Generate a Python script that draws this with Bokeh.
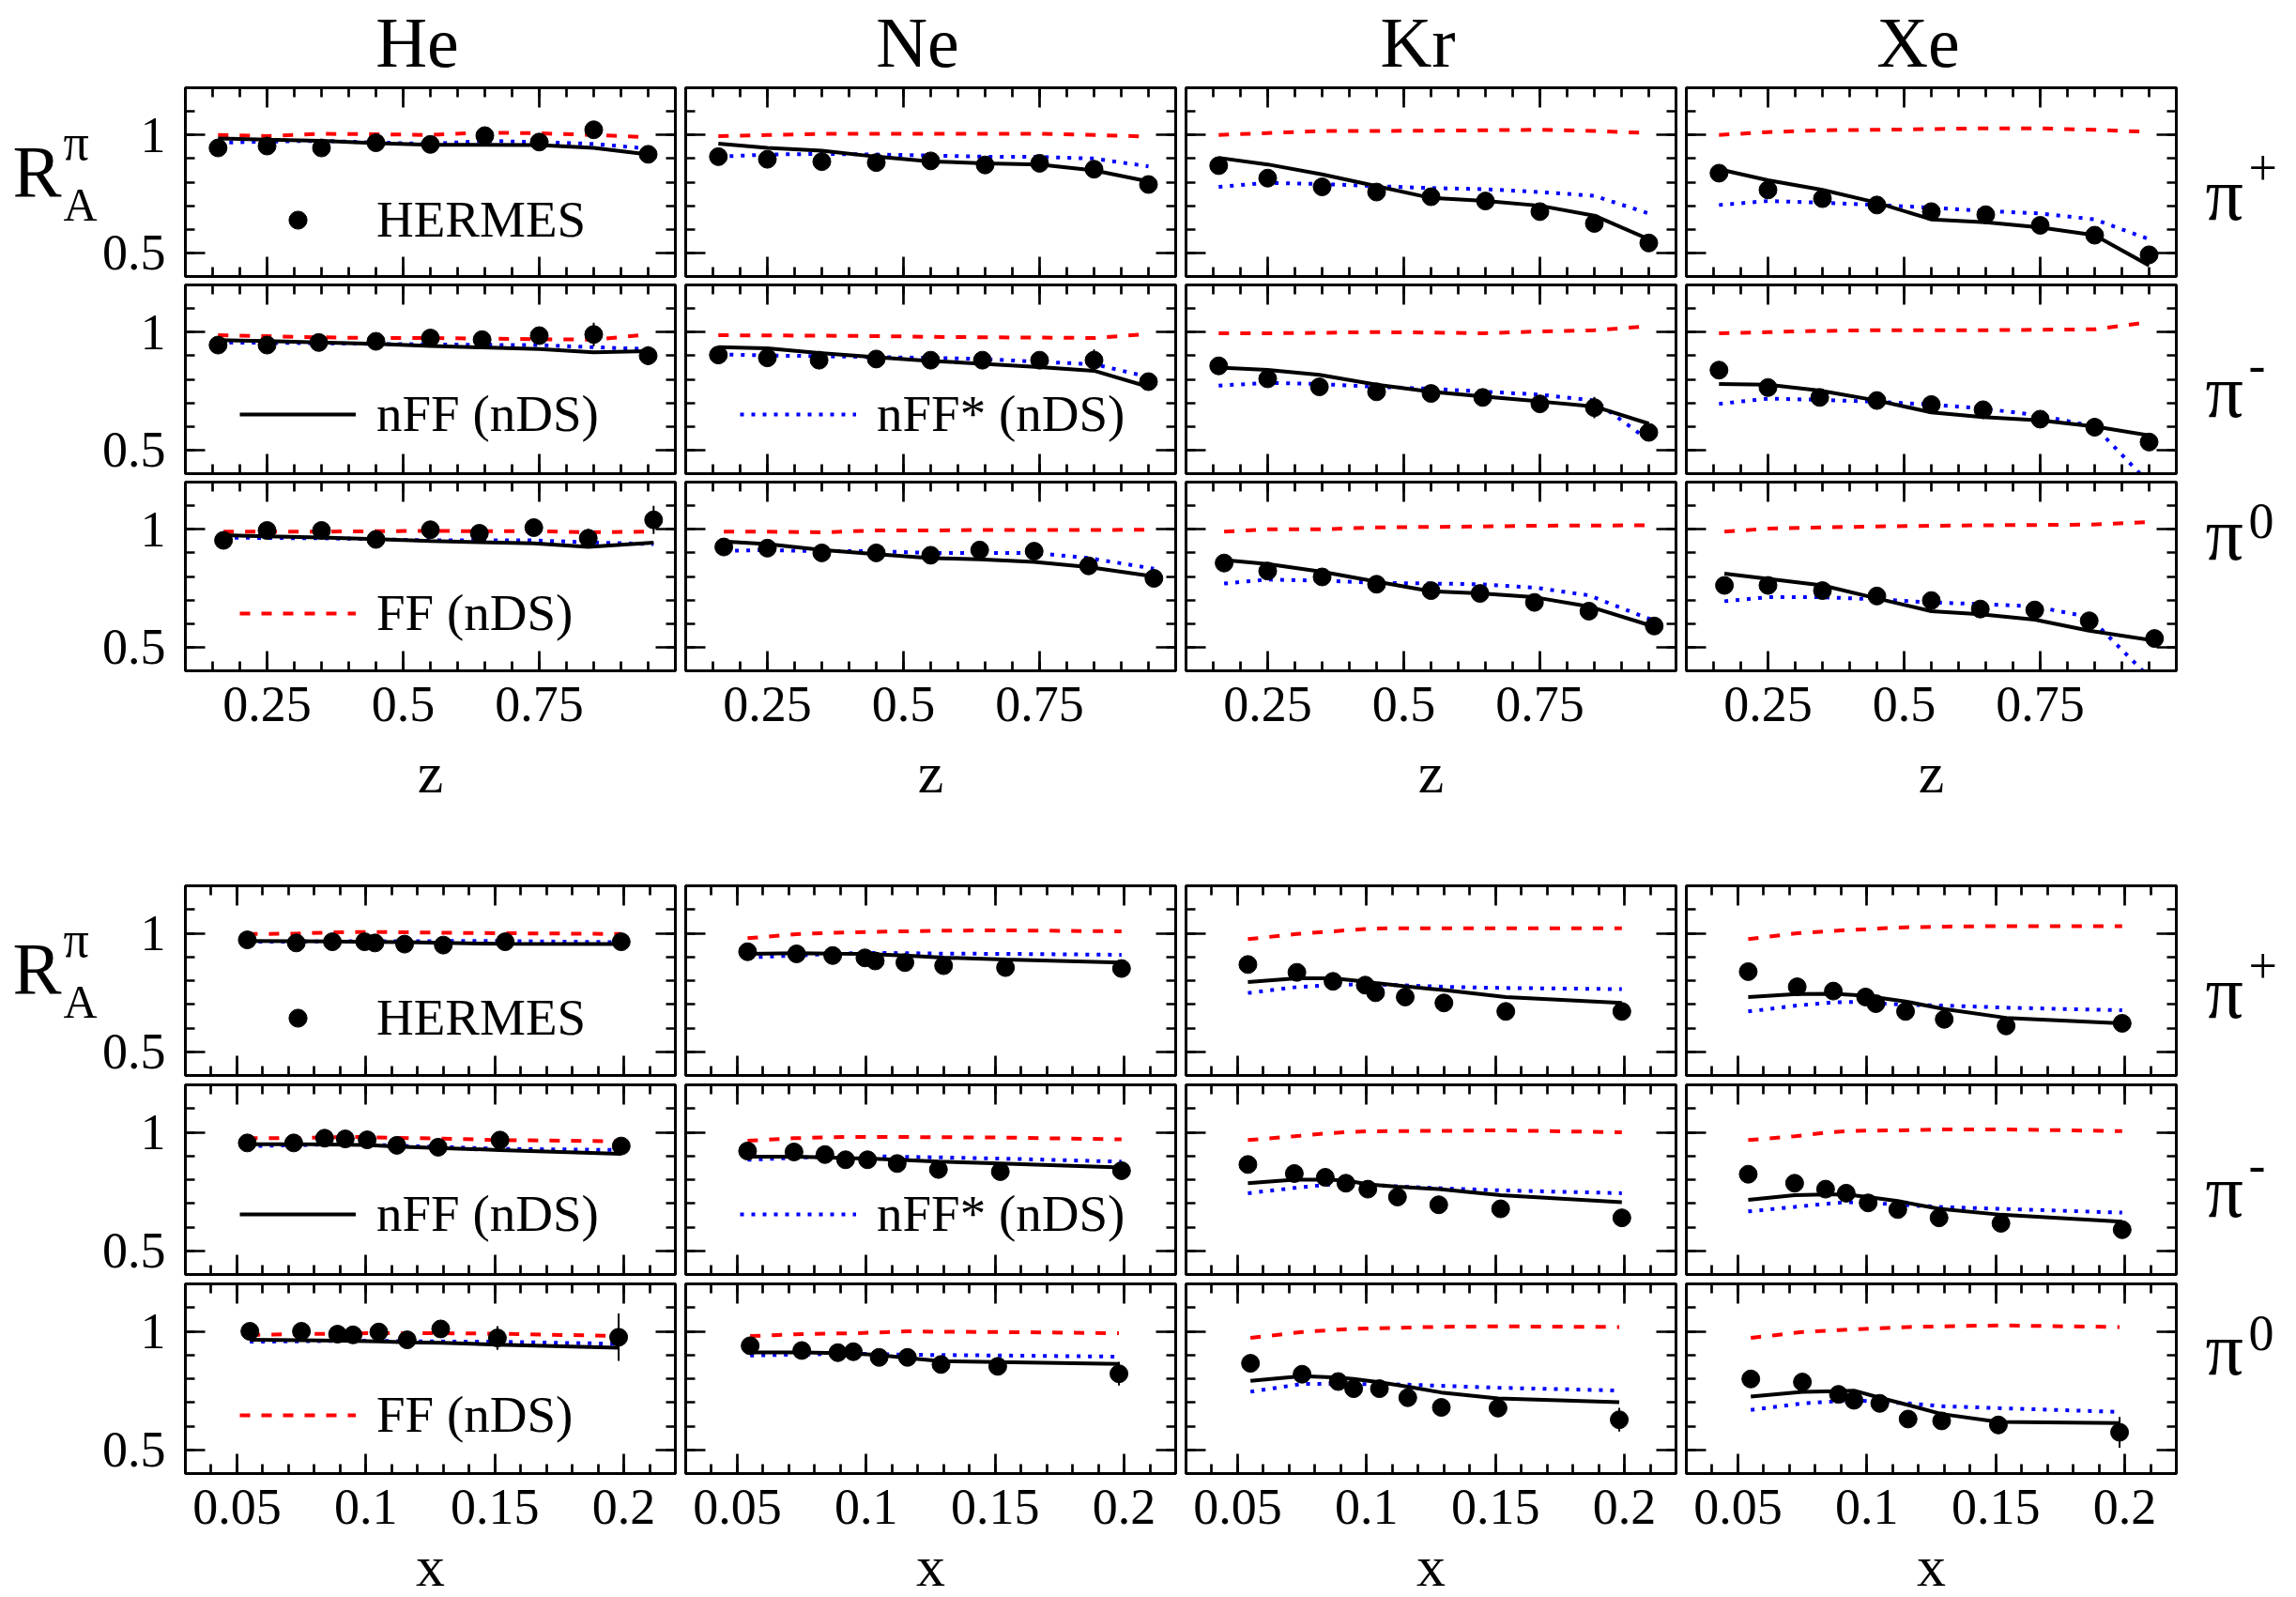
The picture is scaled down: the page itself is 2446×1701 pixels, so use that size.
from bokeh.plotting import figure
from bokeh.models import (Range1d, FixedTicker, LinearAxis, Label, Legend, LegendItem,
                          CustomJSTickFormatter)
from bokeh.layouts import column, row
from bokeh.embed import file_html
from bokeh.resources import INLINE

FONT = "Liberation Serif"
TARGETS = ["He", "Ne", "Kr", "Xe"]
PIONS = ["+", "-", "0"]

# ---------------- z dependence (upper block) ----------------
Z_BINS = {
    "+": [0.16, 0.25, 0.35, 0.45, 0.55, 0.65, 0.75, 0.85, 0.95],
    "-": [0.16, 0.25, 0.345, 0.45, 0.55, 0.645, 0.75, 0.85, 0.95],
    "0": [0.17, 0.25, 0.35, 0.45, 0.55, 0.64, 0.74, 0.84, 0.96],
}
Z_HERMES = {
    "He": {"+": [0.945, 0.953, 0.945, 0.967, 0.96, 0.997, 0.97, 1.022, 0.918],
           "-": [0.945, 0.945, 0.956, 0.961, 0.975, 0.968, 0.985, 0.99, 0.9],
           "0": [0.953, 0.995, 0.995, 0.957, 0.998, 0.983, 1.007, 0.962, 1.04]},
    "Ne": {"+": [0.908, 0.897, 0.887, 0.883, 0.89, 0.873, 0.88, 0.855, 0.79],
           "-": [0.903, 0.891, 0.881, 0.886, 0.881, 0.881, 0.881, 0.881, 0.79],
           "0": [0.925, 0.92, 0.9, 0.9, 0.89, 0.912, 0.907, 0.845, 0.792]},
    "Kr": {"+": [0.87, 0.817, 0.78, 0.758, 0.738, 0.72, 0.675, 0.625, 0.542],
           "-": [0.857, 0.802, 0.768, 0.747, 0.74, 0.723, 0.696, 0.68, 0.575],
           "0": [0.857, 0.823, 0.798, 0.767, 0.74, 0.728, 0.69, 0.653, 0.59]},
    "Xe": {"+": [0.838, 0.767, 0.73, 0.703, 0.675, 0.662, 0.617, 0.575, 0.492],
           "-": [0.839, 0.765, 0.723, 0.71, 0.693, 0.671, 0.631, 0.597, 0.534],
           "0": [0.762, 0.762, 0.74, 0.717, 0.698, 0.662, 0.658, 0.612, 0.537]},
}
Z_ERR = {
    "He": {"+": [0.02, 0.02, 0.02, 0.02, 0.02, 0.02, 0.02, 0.035, 0.025],
           "-": [0.02, 0.02, 0.02, 0.02, 0.02, 0.02, 0.02, 0.05, 0.04],
           "0": [0.02, 0.02, 0.02, 0.02, 0.02, 0.02, 0.03, 0.04, 0.06]},
    "Ne": {"-": [0.02, 0.02, 0.02, 0.02, 0.02, 0.02, 0.02, 0.045, 0.03]},
    "Kr": {"-": [0.02, 0.02, 0.02, 0.02, 0.02, 0.02, 0.02, 0.045, 0.03]},
    "Xe": {"-": [0.02, 0.02, 0.02, 0.02, 0.02, 0.02, 0.02, 0.04, 0.03]},
}
Z_NFF = {
    "He": {"+": [0.985, 0.98, 0.975, 0.965, 0.958, 0.958, 0.957, 0.945, 0.917],
           "-": [0.966, 0.962, 0.956, 0.95, 0.941, 0.935, 0.928, 0.914, 0.919],
           "0": [0.975, 0.97, 0.965, 0.958, 0.95, 0.945, 0.94, 0.925, 0.943]},
    "Ne": {"+": [0.963, 0.945, 0.933, 0.908, 0.888, 0.88, 0.875, 0.85, 0.803],
           "-": [0.936, 0.931, 0.911, 0.894, 0.878, 0.866, 0.852, 0.836, 0.768],
           "0": [0.948, 0.937, 0.912, 0.895, 0.878, 0.873, 0.862, 0.84, 0.8]},
    "Kr": {"+": [0.903, 0.875, 0.833, 0.783, 0.733, 0.72, 0.7, 0.658, 0.558],
           "-": [0.85, 0.84, 0.819, 0.777, 0.747, 0.727, 0.706, 0.685, 0.612],
           "0": [0.87, 0.853, 0.82, 0.778, 0.737, 0.728, 0.712, 0.673, 0.587]},
    "Xe": {"+": [0.855, 0.808, 0.767, 0.713, 0.642, 0.63, 0.608, 0.575, 0.447],
           "-": [0.78, 0.777, 0.752, 0.71, 0.66, 0.64, 0.626, 0.6, 0.562],
           "0": [0.812, 0.79, 0.762, 0.707, 0.653, 0.64, 0.617, 0.57, 0.528]},
}
Z_NFF_STAR = {
    "He": {"+": [0.967, 0.972, 0.975, 0.968, 0.962, 0.975, 0.97, 0.962, 0.942],
           "-": [0.956, 0.955, 0.953, 0.95, 0.948, 0.946, 0.945, 0.936, 0.928],
           "0": [0.965, 0.963, 0.962, 0.958, 0.953, 0.953, 0.953, 0.945, 0.937]},
    "Ne": {"+": [0.908, 0.917, 0.92, 0.917, 0.913, 0.908, 0.907, 0.9, 0.867],
           "-": [0.906, 0.901, 0.898, 0.894, 0.891, 0.886, 0.874, 0.864, 0.81],
           "0": [0.908, 0.912, 0.907, 0.907, 0.9, 0.9, 0.9, 0.878, 0.833]},
    "Kr": {"+": [0.78, 0.797, 0.792, 0.783, 0.775, 0.77, 0.758, 0.742, 0.667],
           "-": [0.773, 0.785, 0.78, 0.768, 0.76, 0.748, 0.735, 0.71, 0.542],
           "0": [0.77, 0.787, 0.782, 0.773, 0.77, 0.767, 0.753, 0.72, 0.612]},
    "Xe": {"+": [0.703, 0.72, 0.713, 0.703, 0.692, 0.678, 0.667, 0.642, 0.558],
           "-": [0.696, 0.718, 0.713, 0.705, 0.693, 0.676, 0.646, 0.6, 0.36],
           "0": [0.695, 0.712, 0.712, 0.703, 0.69, 0.683, 0.673, 0.628, 0.35]},
}
Z_FF = {
    "He": {"+": [1.0, 0.995, 1.005, 1.003, 1.0, 1.01, 1.007, 1.0, 0.99],
           "-": [0.987, 0.983, 0.978, 0.975, 0.975, 0.973, 0.97, 0.968, 0.99],
           "0": [0.99, 0.99, 0.99, 0.992, 0.993, 0.992, 0.992, 0.987, 0.99]},
    "Ne": {"+": [0.995, 1.0, 1.005, 1.005, 1.005, 1.005, 1.005, 1.0, 0.993],
           "-": [0.987, 0.986, 0.985, 0.983, 0.98, 0.978, 0.977, 0.975, 0.992],
           "0": [0.99, 0.99, 0.987, 0.995, 0.995, 0.997, 0.997, 0.997, 0.998]},
    "Kr": {"+": [1.0, 1.008, 1.017, 1.017, 1.018, 1.02, 1.022, 1.017, 1.008],
           "-": [0.995, 0.995, 0.997, 1.0, 0.998, 0.995, 1.003, 1.008, 1.025],
           "0": [0.99, 1.0, 1.0, 1.008, 1.01, 1.012, 1.015, 1.016, 1.017]},
    "Xe": {"+": [1.0, 1.012, 1.02, 1.022, 1.025, 1.028, 1.028, 1.022, 1.013],
           "-": [0.995, 1.0, 1.005, 1.008, 1.008, 1.008, 1.01, 1.012, 1.042],
           "0": [0.99, 1.003, 1.008, 1.012, 1.015, 1.017, 1.018, 1.02, 1.032]},
}

# ---------------- x dependence (lower block) ----------------
X_BINS = {
    "+": [0.054, 0.073, 0.087, 0.0995, 0.1035, 0.115, 0.13, 0.154, 0.199],
    "-": [0.054, 0.072, 0.084, 0.092, 0.1005, 0.112, 0.128, 0.152, 0.199],
    "0": [0.055, 0.075, 0.089, 0.095, 0.105, 0.116, 0.129, 0.151, 0.198],
}
X_HERMES = {
    "He": {"+": [0.972, 0.959, 0.964, 0.964, 0.959, 0.954, 0.95, 0.964, 0.964],
           "-": [0.955, 0.955, 0.975, 0.972, 0.968, 0.945, 0.937, 0.967, 0.942],
           "0": [1.0, 1.0, 0.988, 0.985, 0.997, 0.964, 1.01, 0.972, 0.975]},
    "Ne": {"+": [0.922, 0.913, 0.906, 0.896, 0.883, 0.876, 0.863, 0.855, 0.851],
           "-": [0.921, 0.917, 0.906, 0.884, 0.884, 0.868, 0.843, 0.834, 0.838],
           "0": [0.939, 0.919, 0.91, 0.914, 0.89, 0.89, 0.86, 0.852, 0.821]},
    "Kr": {"+": [0.868, 0.835, 0.797, 0.781, 0.749, 0.731, 0.706, 0.67, 0.67],
           "-": [0.864, 0.826, 0.81, 0.785, 0.76, 0.727, 0.694, 0.677, 0.639],
           "0": [0.865, 0.819, 0.788, 0.758, 0.758, 0.72, 0.679, 0.676, 0.627]},
    "Xe": {"+": [0.838, 0.774, 0.756, 0.731, 0.703, 0.67, 0.637, 0.609, 0.62],
           "-": [0.823, 0.785, 0.76, 0.743, 0.702, 0.674, 0.639, 0.616, 0.589],
           "0": [0.799, 0.786, 0.734, 0.709, 0.696, 0.63, 0.622, 0.605, 0.574]},
}
X_ERR = {
    "He": {"0": [0.02, 0.02, 0.02, 0.02, 0.02, 0.02, 0.02, 0.05, 0.1]},
    "Ne": {"0": [0.02, 0.02, 0.02, 0.02, 0.02, 0.02, 0.02, 0.02, 0.05]},
    "Kr": {"0": [0.02, 0.02, 0.02, 0.02, 0.02, 0.02, 0.02, 0.02, 0.05]},
    "Xe": {"0": [0.02, 0.02, 0.02, 0.02, 0.02, 0.02, 0.02, 0.02, 0.065]},
}
X_NFF = {
    "He": {"+": [0.967, 0.966, 0.965, 0.963, 0.963, 0.962, 0.959, 0.955, 0.954],
           "-": [0.95, 0.95, 0.949, 0.948, 0.947, 0.94, 0.934, 0.925, 0.909],
           "0": [0.964, 0.962, 0.96, 0.959, 0.957, 0.953, 0.951, 0.944, 0.931]},
    "Ne": {"+": [0.913, 0.916, 0.914, 0.913, 0.911, 0.906, 0.897, 0.889, 0.876],
           "-": [0.897, 0.897, 0.894, 0.891, 0.889, 0.884, 0.876, 0.868, 0.851],
           "0": [0.911, 0.911, 0.908, 0.906, 0.9, 0.887, 0.874, 0.87, 0.862]},
    "Kr": {"+": [0.794, 0.81, 0.81, 0.796, 0.79, 0.776, 0.76, 0.731, 0.706],
           "-": [0.785, 0.8, 0.8, 0.797, 0.78, 0.77, 0.76, 0.735, 0.705],
           "0": [0.791, 0.811, 0.805, 0.799, 0.785, 0.766, 0.742, 0.717, 0.701]},
    "Xe": {"+": [0.731, 0.744, 0.745, 0.737, 0.73, 0.712, 0.68, 0.643, 0.62],
           "-": [0.715, 0.735, 0.738, 0.738, 0.727, 0.71, 0.677, 0.652, 0.623],
           "0": [0.725, 0.745, 0.748, 0.75, 0.72, 0.689, 0.651, 0.618, 0.613]},
}
X_NFF_STAR = {
    "He": {"+": [0.964, 0.965, 0.966, 0.966, 0.966, 0.966, 0.967, 0.967, 0.962],
           "-": [0.942, 0.945, 0.948, 0.95, 0.949, 0.943, 0.939, 0.93, 0.925],
           "0": [0.956, 0.958, 0.96, 0.961, 0.96, 0.958, 0.957, 0.956, 0.947]},
    "Ne": {"+": [0.898, 0.906, 0.913, 0.917, 0.917, 0.916, 0.914, 0.913, 0.909],
           "-": [0.884, 0.892, 0.897, 0.899, 0.9, 0.897, 0.894, 0.889, 0.876],
           "0": [0.898, 0.902, 0.905, 0.906, 0.904, 0.901, 0.9, 0.898, 0.893]},
    "Kr": {"+": [0.748, 0.773, 0.782, 0.785, 0.784, 0.78, 0.774, 0.769, 0.764],
           "-": [0.743, 0.765, 0.778, 0.785, 0.778, 0.772, 0.764, 0.755, 0.743],
           "0": [0.745, 0.778, 0.778, 0.778, 0.777, 0.775, 0.77, 0.762, 0.75]},
    "Xe": {"+": [0.67, 0.695, 0.708, 0.711, 0.705, 0.698, 0.695, 0.686, 0.675],
           "-": [0.666, 0.685, 0.698, 0.705, 0.702, 0.695, 0.685, 0.677, 0.661],
           "0": [0.668, 0.696, 0.705, 0.709, 0.702, 0.696, 0.684, 0.676, 0.66]},
}
X_FF = {
    "He": {"+": [0.997, 0.998, 1.004, 1.005, 1.005, 1.004, 1.002, 1.0, 0.997],
           "-": [0.975, 0.975, 0.978, 0.98, 0.98, 0.976, 0.974, 0.967, 0.962],
           "0": [0.985, 0.988, 0.99, 0.991, 0.992, 0.992, 0.992, 0.99, 0.98]},
    "Ne": {"+": [0.979, 0.996, 1.002, 1.005, 1.006, 1.008, 1.011, 1.012, 1.008],
           "-": [0.964, 0.975, 0.978, 0.98, 0.98, 0.98, 0.979, 0.978, 0.97],
           "0": [0.98, 0.988, 0.991, 0.992, 0.995, 1.0, 0.998, 0.997, 0.992]},
    "Kr": {"+": [0.975, 0.997, 1.008, 1.018, 1.02, 1.021, 1.021, 1.021, 1.021],
           "-": [0.967, 0.983, 0.995, 1.0, 1.004, 1.005, 1.006, 1.008, 1.0],
           "0": [0.972, 0.997, 1.007, 1.01, 1.013, 1.016, 1.019, 1.021, 1.018]},
    "Xe": {"+": [0.975, 1.0, 1.01, 1.017, 1.02, 1.025, 1.028, 1.03, 1.03],
           "-": [0.967, 0.983, 0.998, 1.005, 1.007, 1.008, 1.012, 1.012, 1.005],
           "0": [0.972, 0.997, 1.005, 1.008, 1.013, 1.018, 1.021, 1.025, 1.018]},
}

# ---------------- axes ----------------
Y_RANGE = (0.4, 1.2)
Y_MAJOR = [0.5, 1.0]
Y_MINOR = [round(0.4 + 0.1 * i, 2) for i in range(9)]
Z_RANGE = (0.1, 1.0)
Z_MAJOR = [0.25, 0.5, 0.75]
Z_MINOR = [round(0.1 + 0.05 * i, 3) for i in range(19)]
X_RANGE = (0.03, 0.22)
X_MAJOR = [0.05, 0.1, 0.15, 0.2]
X_MINOR = [round(0.03 + 0.01 * i, 3) for i in range(20)]

# ---------------- page geometry (pixels) ----------------
PAGE_W = 2446
TITLE_H = 88
LEFT_W, RIGHT_W = 105, 125
FW = 522
FH = {"z": 201, "x": 202}
BORDER_L = [90, 6, 6, 6]
BORDER_R = [5, 5, 5, 5]
BORDER_TB = {"z": [(5, 4), (5, 4), (5, 224)], "x": [(5, 5), (5, 5), (5, 132)]}
AXIS_LABEL_STANDOFF = {"z": 18, "x": 8}
COL_PITCH = 533

RED, BLACK, BLUE = "#ff0000", "#000000", "#0000ff"
LW = 4
TICK_FMT = CustomJSTickFormatter(code="return tick.toString()")


def style_axis(ax, major, minor, labelled, standoff):
    ax.ticker = FixedTicker(ticks=major, minor_ticks=minor)
    ax.formatter = TICK_FMT
    ax.axis_line_width = 3
    ax.axis_line_color = BLACK
    ax.major_tick_in = 21
    ax.major_tick_out = 0
    ax.minor_tick_in = 10
    ax.minor_tick_out = 0
    ax.major_tick_line_width = 2.7
    ax.minor_tick_line_width = 2.7
    ax.major_tick_line_color = BLACK
    ax.minor_tick_line_color = BLACK
    if labelled:
        ax.major_label_text_font = FONT
        ax.major_label_text_font_size = "54px"
        ax.major_label_text_color = BLACK
        ax.major_label_standoff = standoff
    else:
        # mirrored ticks only: no labels drawn, no room taken
        ax.major_label_text_color = None
        ax.major_label_text_font_size = "0px"
        ax.major_label_standoff = 0


def blank(width, height):
    """A plain drawing area, measured in pixels from its top-left corner."""
    p = figure(width=width, height=height, x_range=Range1d(0, width),
               y_range=Range1d(height, 0), x_axis_type=None, y_axis_type=None,
               output_backend="svg", toolbar_location=None, min_border=0)
    p.outline_line_color = None
    p.grid.visible = False
    p.background_fill_color = "white"
    p.border_fill_color = "white"
    return p


def put(p, x, baseline, s, size, align="left"):
    """Place text so that its baseline sits at the given pixel row."""
    p.add_layout(Label(x=x, y=baseline - 0.34 * size, text=s, text_font=FONT,
                       text_font_size=f"{size}px", text_color=BLACK,
                       text_align=align, text_baseline="middle"))


def make_panel(block, r, c):
    t, pion = TARGETS[c], PIONS[r]
    fh = FH[block]
    if block == "z":
        xr, xmaj, xmin = Z_RANGE, Z_MAJOR, Z_MINOR
        bins, pts, errs = Z_BINS[pion], Z_HERMES[t][pion], Z_ERR.get(t, {}).get(pion)
        nff, nffs, ff = Z_NFF[t][pion], Z_NFF_STAR[t][pion], Z_FF[t][pion]
    else:
        xr, xmaj, xmin = X_RANGE, X_MAJOR, X_MINOR
        bins, pts, errs = X_BINS[pion], X_HERMES[t][pion], X_ERR.get(t, {}).get(pion)
        nff, nffs, ff = X_NFF[t][pion], X_NFF_STAR[t][pion], X_FF[t][pion]
    if errs is None:
        errs = [0.02] * len(pts)
    top, bottom = BORDER_TB[block][r]

    p = figure(frame_width=FW, frame_height=fh,
               x_range=Range1d(*xr), y_range=Range1d(*Y_RANGE),
               output_backend="svg", toolbar_location=None,
               min_border_left=BORDER_L[c], min_border_right=BORDER_R[c],
               min_border_top=top, min_border_bottom=bottom)
    p.grid.visible = False
    p.outline_line_color = BLACK
    p.outline_line_width = 3
    p.background_fill_color = "white"
    p.border_fill_color = "white"
    p.add_layout(LinearAxis(), "above")
    p.add_layout(LinearAxis(), "right")
    style_axis(p.below[0], xmaj, xmin, r == 2, 17)
    style_axis(p.above[0], xmaj, xmin, False, 0)
    style_axis(p.left[0], Y_MAJOR, Y_MINOR, c == 0, 21)
    style_axis(p.right[0], Y_MAJOR, Y_MINOR, False, 0)
    if r == 2:
        ax = p.below[0]
        ax.axis_label = block
        ax.axis_label_text_font = FONT
        ax.axis_label_text_font_size = "62px"
        ax.axis_label_text_font_style = "normal"
        ax.axis_label_text_color = BLACK
        ax.axis_label_standoff = AXIS_LABEL_STANDOFF[block]

    r_ff = p.line(bins, ff, line_color=RED, line_width=LW, line_dash="11 12")
    r_nffs = p.line(bins, nffs, line_color=BLUE, line_width=LW, line_dash="4 8")
    r_nff = p.line(bins, nff, line_color=BLACK, line_width=LW)
    p.segment(x0=bins, x1=bins,
              y0=[v - e for v, e in zip(pts, errs)], y1=[v + e for v, e in zip(pts, errs)],
              line_color=BLACK, line_width=2)
    r_pts = p.scatter(bins, pts, size=19, color=BLACK)

    def add_key(renderer, text, dy):
        leg = Legend(items=[LegendItem(label=text, renderers=[renderer])],
                     location=(58, fh - dy - 33), orientation="vertical",
                     glyph_width=124, glyph_height=48, label_standoff=22,
                     label_text_font=FONT, label_text_font_size="55px",
                     label_text_color=BLACK, padding=0, margin=0, spacing=0,
                     border_line_alpha=0, background_fill_alpha=0)
        p.add_layout(leg)

    if c == 0 and r == 0:
        add_key(r_pts, "HERMES", 139)
    if c == 0 and r == 1:
        add_key(r_nff, "nFF (nDS)", 136)
    if c == 1 and r == 1:
        add_key(r_nffs, "nFF* (nDS)", 136)
    if c == 0 and r == 2:
        add_key(r_ff, "FF (nDS)", 138)
    return p


def make_row(block, r):
    top, bottom = BORDER_TB[block][r]
    h = top + FH[block] + bottom
    left = blank(LEFT_W, h)
    right = blank(RIGHT_W, h)
    if r == 0:
        put(left, 13, top + 114, "R", 78)
        put(left, 67, top + 74, "π", 54)
        put(left, 67, top + 142, "A", 50)
    put(right, 26, top + 141, "π", 80)
    put(right, 72, top + 103, PIONS[r], 54)
    panels = [make_panel(block, r, c) for c in range(4)]
    return row(left, *panels, right, spacing=0)


titles = blank(PAGE_W, TITLE_H)
for c, t in enumerate(TARGETS):
    put(titles, LEFT_W + BORDER_L[0] + c * COL_PITCH + FW / 2 - 12, 70, t, 76, "center")

rows = [titles]
for block in ("z", "x"):
    for r in range(3):
        rows.append(make_row(block, r))
page = column(*rows, spacing=0)

open("out.html", "w").write(file_html(page, INLINE, title="Nuclear modification ratios"))
